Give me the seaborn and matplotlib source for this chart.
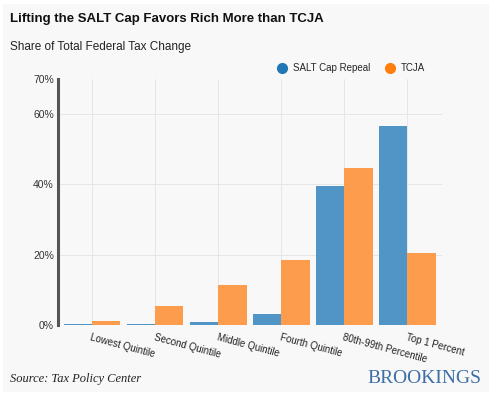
import numpy as np
import pandas as pd
import matplotlib
matplotlib.use("Agg")
import matplotlib.pyplot as plt
from matplotlib.lines import Line2D
from matplotlib.patches import Rectangle
import seaborn as sns

# data (share of total federal tax change, %)
groups = ["Lowest Quintile", "Second Quintile", "Middle Quintile",
          "Fourth Quintile", "80th-99th Percentile", "Top 1 Percent"]
salt_repeal = [0.3, 0.3, 0.8, 3.1, 39.6, 56.6]
tcja = [1.1, 5.3, 11.3, 18.4, 44.7, 20.5]
series_names = ["SALT Cap Repeal", "TCJA"]
yticks = [0, 20, 40, 60, 70]

df = pd.DataFrame({
    "group": groups * 2,
    "series": [series_names[0]] * len(groups) + [series_names[1]] * len(groups),
    "share": salt_repeal + tcja,
})

bg = "#f8f8f8"
bar_colors = ["#5095c5", "#fe9c4d"]
dot_colors = ["#1f77b4", "#ff7f0e"]

sns.set_style("white")
plt.rcParams["font.family"] = ["Liberation Sans", "DejaVu Sans"]

fig = plt.figure(figsize=(5, 3.98), dpi=100, facecolor="white")
# light grey card with a thin white margin, like the screenshot
fig.patches.append(Rectangle((0.006, 0.015), 0.972, 0.975,
                             transform=fig.transFigure, facecolor=bg,
                             edgecolor="none", zorder=-10))
ax = fig.add_axes([0.116, 0.1834, 0.768, 0.618])
ax.set_facecolor(bg)

sns.barplot(data=df, x="group", y="share", hue="series", order=groups,
            hue_order=series_names, palette=bar_colors, width=0.9,
            saturation=1, linewidth=0, ax=ax, legend=False, zorder=3)

ax.set_ylim(0, 70)
ax.set_xlim(-0.54, 5.55)
ax.set_yticks(yticks)
ax.set_yticklabels([f"{t}%" for t in yticks], fontsize=7.5, color="#333333")
ax.set_xticks(range(len(groups)))
ax.set_xticklabels(groups, rotation=-15, ha="left", rotation_mode="anchor",
                   fontsize=7, color="#222222")
ax.tick_params(axis="both", length=0, pad=3)
ax.tick_params(axis="x", pad=5)
ax.set_xlabel("")
ax.set_ylabel("")

ax.grid(True, color="#e6e6e6", linewidth=0.7, zorder=0)
for t, gl in zip(yticks, ax.get_ygridlines()):
    if t in (0, 70):
        gl.set_visible(False)

for side in ["top", "right", "bottom"]:
    ax.spines[side].set_visible(False)
ax.spines["left"].set_color("#555555")
ax.spines["left"].set_linewidth(2.2)

handles = [Line2D([], [], marker="o", linestyle="", markersize=7,
                  markerfacecolor=c, markeredgecolor=c) for c in dot_colors]
ax.legend(handles, series_names, ncol=2, loc="lower right",
          bbox_to_anchor=(0.97, 1.0), frameon=False, fontsize=7,
          handletextpad=0.1, columnspacing=1.0, borderaxespad=0.2)

fig.text(0.02, 0.953, "Lifting the SALT Cap Favors Rich More than TCJA",
         fontsize=9.5, fontweight="bold", color="#111111", va="center")
fig.text(0.02, 0.882, "Share of Total Federal Tax Change", fontsize=8.5,
         color="#222222", va="center")
fig.text(0.02, 0.048, "Source: Tax Policy Center", fontsize=9,
         style="italic", family=["Liberation Serif", "DejaVu Serif"],
         color="#222222", va="center")
fig.text(0.962, 0.05, "BROOKINGS", fontsize=14,
         family=["Liberation Serif", "DejaVu Serif"], color="#3d6ea5",
         va="center", ha="right")

fig.savefig("out.png", dpi=100, facecolor="white")
